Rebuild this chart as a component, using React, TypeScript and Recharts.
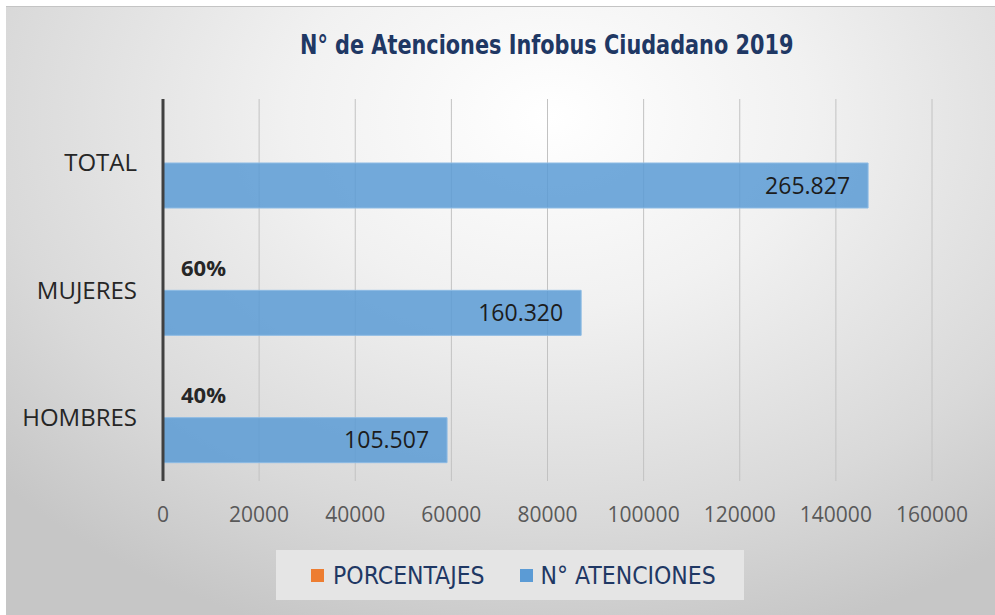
import { BarChart, Bar, XAxis, YAxis, CartesianGrid, LabelList } from "recharts";

// categories top to bottom, as in the picture
const categories = ["TOTAL", "MUJERES", "HOMBRES"];
// bar lengths as drawn against the axis
const atencionesValues = [146700, 87000, 59100];
// the data labels printed inside the bars
const atencionesLabels = ["265.827", "160.320", "105.507"];
// percentage series (near-zero bars, only the labels show)
const porcentajesValues: (number | null)[] = [null, 0.6, 0.4];
const xTicks = [0, 20000, 40000, 60000, 80000, 100000, 120000, 140000, 160000];

const BLUE = "#5B9BD5";
const ORANGE = "#ED7D31";
const NAVY = "#1F3864";
const NARROW = '"Liberation Sans Narrow", "Arial Narrow", "DejaVu Sans Condensed", sans-serif';
const BODY = '"Open Sans", "Noto Sans", sans-serif';

const data = categories.map((c, i) => ({
  name: c,
  porcentajes: porcentajesValues[i],
  atenciones: atencionesValues[i],
  label: atencionesLabels[i],
}));

export default function App() {
  return (
    <div style={{ position: "relative", width: 995, height: 615, background: "#fff" }}>
      <style>{"body{margin:0;}"}</style>
      <div
        style={{
          position: "absolute",
          left: 6,
          top: 6,
          width: 989,
          height: 609,
          borderTop: "1px solid #c4c4c4",
          boxSizing: "border-box",
          background: "radial-gradient(ellipse 75% 90% at 55% 18%, #ffffff 0%, #f1f1f1 35%, #d9d9d9 75%, #c6c6c6 100%)",
        }}
      >
        <div
          style={{
            position: "absolute",
            left: 294,
            top: 23,
            whiteSpace: "nowrap",
            fontFamily: NARROW,
            fontWeight: 700,
            fontSize: 27,
            lineHeight: "30px",
            color: NAVY,
            transform: "scaleX(0.857)",
            transformOrigin: "left center",
          }}
        >
          N° de Atenciones Infobus Ciudadano 2019
        </div>

        <BarChart
          width={989}
          height={609}
          data={data}
          layout="vertical"
          margin={{ top: 92, right: 63, bottom: 0, left: 0 }}
          barSize={45}
          barGap={0}
          style={{ position: "absolute", left: 0, top: 0 }}
        >
          <CartesianGrid horizontal={false} stroke="#c2c2c2" />
          <XAxis
            type="number"
            domain={[0, 160000]}
            ticks={xTicks}
            height={135}
            axisLine={false}
            tickLine={false}
            tickSize={0}
            tickMargin={26}
            tick={{ fontSize: 21, fill: "#595959", fontFamily: BODY }}
          />
          <YAxis
            type="category"
            dataKey="name"
            width={157}
            axisLine={{ stroke: "#404040", strokeWidth: 3 }}
            tickLine={false}
            tickSize={0}
            tickMargin={26}
            tick={{ fontSize: 24, fill: "#262626", fontFamily: BODY }}
          />
          <Bar dataKey="porcentajes" name="PORCENTAJES" fill={ORANGE} isAnimationActive={false}>
            <LabelList
              dataKey="porcentajes"
              position="right"
              offset={18}
              formatter={(v: any) => (v == null ? "" : `${Math.round(v * 100)}%`)}
              fill="#262626"
              fontSize={22}
              fontWeight={700}
              fontFamily={BODY}
            />
          </Bar>
          <Bar
            dataKey="atenciones"
            name="N° ATENCIONES"
            fill={BLUE}
            fillOpacity={0.85}
            stroke="#8dbbe4"
            strokeWidth={1}
            isAnimationActive={false}
          >
            <LabelList
              dataKey="label"
              position="insideRight"
              offset={18}
              fill="#1c1c1c"
              fontSize={23}
              fontFamily={BODY}
            />
          </Bar>
        </BarChart>

        <div
          style={{
            position: "absolute",
            left: 270,
            top: 543,
            width: 468,
            height: 50,
            background: "#e5e5e5",
            display: "flex",
            alignItems: "center",
            fontFamily: NARROW,
            fontSize: 24.5,
            color: NAVY,
          }}
        >
          <span style={{ width: 13, height: 13, background: ORANGE, marginLeft: 35, marginRight: 9 }} />
          <span>PORCENTAJES</span>
          <span style={{ width: 13, height: 13, background: BLUE, marginLeft: 35, marginRight: 8 }} />
          <span>N° ATENCIONES</span>
        </div>
      </div>
    </div>
  );
}
